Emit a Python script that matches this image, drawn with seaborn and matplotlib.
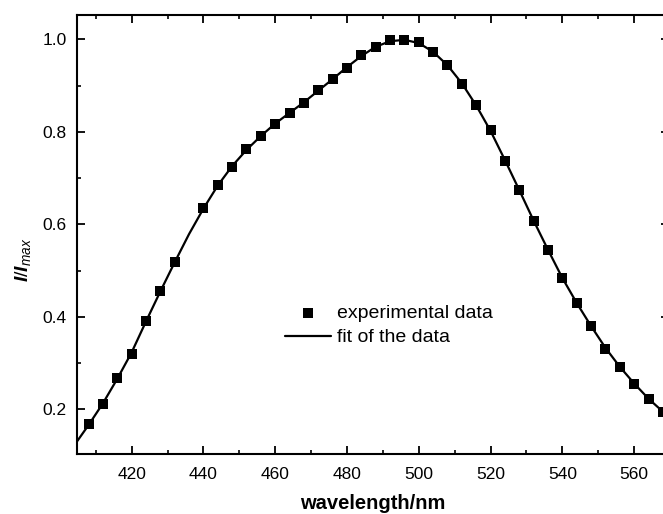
import matplotlib
matplotlib.use("Agg")
import matplotlib.pyplot as plt
import seaborn as sns
import pandas as pd
from matplotlib.ticker import MultipleLocator

# ---- data ----
wavelength = [408, 412, 416, 420, 424, 428, 432, 440, 444, 448, 452, 456, 460, 464,
              468, 472, 476, 480, 484, 488, 492, 496, 500, 504, 508, 512, 516, 520,
              524, 528, 532, 536, 540, 544, 548, 552, 556, 560, 564, 568]
intensity = [0.168, 0.212, 0.268, 0.320, 0.392, 0.455, 0.519, 0.635, 0.685, 0.725,
             0.762, 0.790, 0.818, 0.840, 0.862, 0.890, 0.914, 0.938, 0.966, 0.984,
             0.998, 0.999, 0.994, 0.973, 0.944, 0.904, 0.857, 0.803, 0.737, 0.674,
             0.607, 0.545, 0.484, 0.431, 0.380, 0.331, 0.292, 0.255, 0.222, 0.195]

fit_wavelength = [404, 408, 412, 416, 420, 424, 428, 432, 436, 440, 444, 448, 452, 456,
                  460, 464, 468, 472, 476, 480, 484, 488, 492, 496, 500, 504, 508, 512,
                  516, 520, 524, 528, 532, 536, 540, 544, 548, 552, 556, 560, 564, 568, 570]
fit_intensity = [0.122, 0.166, 0.213, 0.266, 0.323, 0.390, 0.455, 0.518, 0.579, 0.634,
                 0.684, 0.726, 0.761, 0.791, 0.818, 0.841, 0.864, 0.889, 0.914, 0.940,
                 0.964, 0.984, 0.996, 0.999, 0.992, 0.973, 0.944, 0.905, 0.857, 0.802,
                 0.739, 0.674, 0.608, 0.545, 0.484, 0.430, 0.380, 0.333, 0.292, 0.256,
                 0.223, 0.195, 0.183]

x_ticks = [420, 440, 460, 480, 500, 520, 540, 560]
y_ticks = [0.2, 0.4, 0.6, 0.8, 1.0]

data_df = pd.DataFrame({"wavelength": wavelength, "I": intensity})
fit_df = pd.DataFrame({"wavelength": fit_wavelength, "I": fit_intensity})

sns.set_theme(style="ticks")
plt.rcParams["font.family"] = ["Liberation Sans", "DejaVu Sans"]
plt.rcParams["mathtext.fontset"] = "custom"
plt.rcParams["mathtext.it"] = "Liberation Sans:italic:bold"
plt.rcParams["mathtext.sf"] = "Liberation Sans:italic"
plt.rcParams["mathtext.rm"] = "Liberation Sans"
for key in ["text.color", "axes.labelcolor", "xtick.color", "ytick.color",
            "axes.edgecolor"]:
    plt.rcParams[key] = "black"

fig = plt.figure(figsize=(6.63, 5.14), dpi=100)
ax = fig.add_axes([0.1157, 0.1167, 0.8933, 0.8535])

sns.lineplot(data=fit_df, x="wavelength", y="I", ax=ax, color="black",
             linewidth=1.6, sort=False, estimator=None, label="fit of the data",
             zorder=2)
sns.scatterplot(data=data_df, x="wavelength", y="I", ax=ax, marker="s", s=50,
                color="black", edgecolor="black", linewidth=0,
                label="experimental data", zorder=3)

ax.set_xlim(404.7, 569.7)
ax.set_ylim(0.1034, 1.052)
ax.set_xticks(x_ticks)
ax.set_yticks(y_ticks)
ax.set_xticklabels([str(v) for v in x_ticks])
ax.set_yticklabels([f"{v:.1f}" for v in y_ticks])
ax.xaxis.set_minor_locator(MultipleLocator(10))
ax.yaxis.set_minor_locator(MultipleLocator(0.1))

for side in ["top", "right", "bottom", "left"]:
    ax.spines[side].set_visible(True)
    ax.spines[side].set_linewidth(1.5)
    ax.spines[side].set_color("black")

ax.tick_params(which="both", direction="in", top=True, right=True,
               color="black", labelcolor="black")
ax.tick_params(which="major", length=6, width=1.3, labelsize=12.5, pad=7)
ax.tick_params(axis="x", which="major", pad=9)
ax.tick_params(which="minor", length=3, width=1.2)

ax.set_xlabel("wavelength/nm", fontsize=14.5, fontweight="bold", labelpad=9)
ax.set_ylabel(r"$I/I_{\mathsf{max}}$", fontsize=14)
ax.yaxis.set_label_coords(-0.074, 0.442)

handles, labels = ax.get_legend_handles_labels()
order = [labels.index("experimental data"), labels.index("fit of the data")]
leg = ax.legend([handles[i] for i in order], [labels[i] for i in order],
                loc="center left", bbox_to_anchor=(0.3517, 0.2934),
                frameon=False, fontsize=14, borderpad=0, borderaxespad=0,
                handlelength=2.37, handletextpad=0.3, labelspacing=0.35,
                markerscale=1.0)

fig.savefig("out.png", dpi=100)
